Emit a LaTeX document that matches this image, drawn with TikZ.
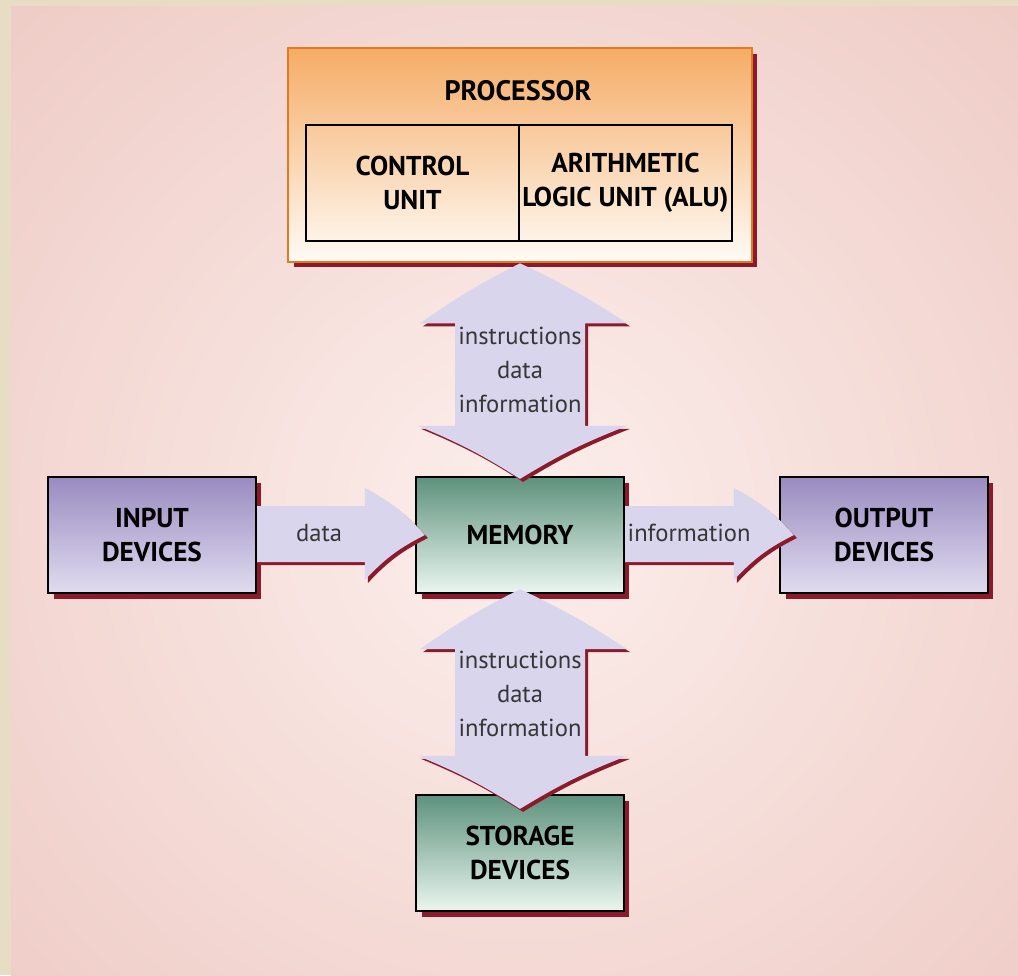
\documentclass[tikz,border=0pt]{standalone}
\usepackage{fontspec}
\setmainfont{PT Sans}
\usetikzlibrary{calc}

\definecolor{bgbeige}{HTML}{E6DDC4}
\definecolor{bgpink}{HTML}{EDC7C1}
\definecolor{bglight}{HTML}{FCEFEC}
\definecolor{shadowred}{HTML}{8A1A2C}
\definecolor{procorange}{HTML}{E27A22}
\definecolor{proctop}{HTML}{F5AC66}
\definecolor{procbot}{HTML}{FFFBF6}
\definecolor{memtop}{HTML}{5E927D}
\definecolor{memmid}{HTML}{93BDA9}
\definecolor{membot}{HTML}{EAF6EF}
\definecolor{devtop}{HTML}{9A8BC0}
\definecolor{devbot}{HTML}{E0DCF0}
\definecolor{flowfill}{HTML}{D9D5EC}
\definecolor{labelgray}{HTML}{363636}

\tikzset{
   box shadow/.style={preaction={fill=shadowred,
      transform canvas={shift={(0.11cm,-0.11cm)}}}},
   unit box/.style={draw=black, line width=1.3pt, box shadow,
      minimum width=4.16cm, minimum height=2.32cm, align=center,
      font=\bfseries\fontsize{15.5}{19.3}\selectfont},
   memory box/.style={unit box, top color=memtop, middle color=memmid, bottom color=membot},
   device box/.style={unit box, top color=devtop, bottom color=devbot},
   proc box/.style={draw=procorange, line width=1.5pt, box shadow,
      top color=proctop, bottom color=procbot,
      minimum width=9.28cm, minimum height=4.28cm},
   inner box/.style={draw=black, line width=1.3pt, inner xsep=1pt,
      minimum width=4.26cm, minimum height=2.32cm, align=center,
      font=\bfseries\fontsize{15.5}{19.3}\selectfont},
   flow/.style={fill=flowfill},
   flow shadow/.style={fill=shadowred,
      transform canvas={shift={(0.06cm,-0.06cm)}}},
   flow label/.style={text=labelgray, align=center,
      font=\fontsize{14}{19.3}\selectfont},
}

% double arrow between two tips (top, bottom)
\newcommand\vflowpath[2]{(#1) to[bend right=4] ($(#1)+(-100,60)$)
   -- ($(#1)+(-65,60)$) -- ($(#2)+(-65,-53)$) -- ($(#2)+(-102,-53)$)
   to[bend left=5] (#2) to[bend left=5] ($(#2)+(107,-53)$)
   -- ($(#2)+(65,-53)$) -- ($(#1)+(65,60)$) -- ($(#1)+(107,60)$)
   to[bend right=4] cycle}
% single arrow from tail to tip
\newcommand\hflowpath[2]{($(#1)+(0,-29)$) -- ($(#2)+(-60,-29)$)
   -- ($(#2)+(-60,-47)$) to[bend left=10] (#2)
   to[bend right=10] ($(#2)+(-60,45)$) -- ($(#2)+(-60,27)$)
   -- ($(#1)+(0,27)$) -- cycle}

\begin{document}
\begin{tikzpicture}[x=0.02cm, y=-0.02cm]
   \useasboundingbox (0,0) rectangle (1018,975);
   % background
   \fill[bgbeige] (0,0) rectangle (1018,975);
   \begin{scope}
      \clip (11,6) rectangle (1018,975);
      \shade[inner color=bglight, outer color=bgpink] (520,520) circle (820);
   \end{scope}

   % processor
   \node[proc box] (proc) at (520,155) {};
   \node[font=\bfseries\fontsize{16}{19}\selectfont] (proctitle) at (518,91) {PROCESSOR};
   \node[inner box] (cu) at (412.5,183) {CONTROL\\UNIT};
   \node[inner box] (alu) at (625.5,183) {ARITHMETIC\\LOGIC UNIT (ALU)};

   % units
   \node[memory box] (mem) at (520,535) {MEMORY};
   \node[memory box] (stor) at (520,853) {STORAGE\\DEVICES};
   \node[device box] (inp) at (152,535) {INPUT\\DEVICES};
   \node[device box] (outp) at (884,535) {OUTPUT\\DEVICES};

   % flows
   \path[flow shadow] \vflowpath{proc.south}{$(mem.north)+(0,3)$};
   \path[flow] \vflowpath{proc.south}{$(mem.north)+(0,3)$};
   \path[flow shadow] \vflowpath{$(mem.south)+(0,-5)$}{$(stor.north)+(0,15)$};
   \path[flow] \vflowpath{$(mem.south)+(0,-5)$}{$(stor.north)+(0,15)$};
   \path[flow shadow] \hflowpath{inp.east}{$(mem.west)+(10,0)$};
   \path[flow] \hflowpath{inp.east}{$(mem.west)+(10,0)$};
   \path[flow shadow] \hflowpath{mem.east}{$(outp.west)+(15,0)$};
   \path[flow] \hflowpath{mem.east}{$(outp.west)+(15,0)$};

   % labels
   \node[flow label] (lbl-pm) at ($(proc.south)!0.5!(mem.north)$) {instructions\\data\\information};
   \node[flow label] (lbl-ms) at ($(mem.south)!0.5!(stor.north)$) {instructions\\data\\information};
   \node[flow label] (lbl-in) at ($(inp.east)+(62,-2)$) {data};
   \node[flow label] (lbl-out) at ($(mem.east)+(64,-2)$) {information};
\end{tikzpicture}
\end{document}
